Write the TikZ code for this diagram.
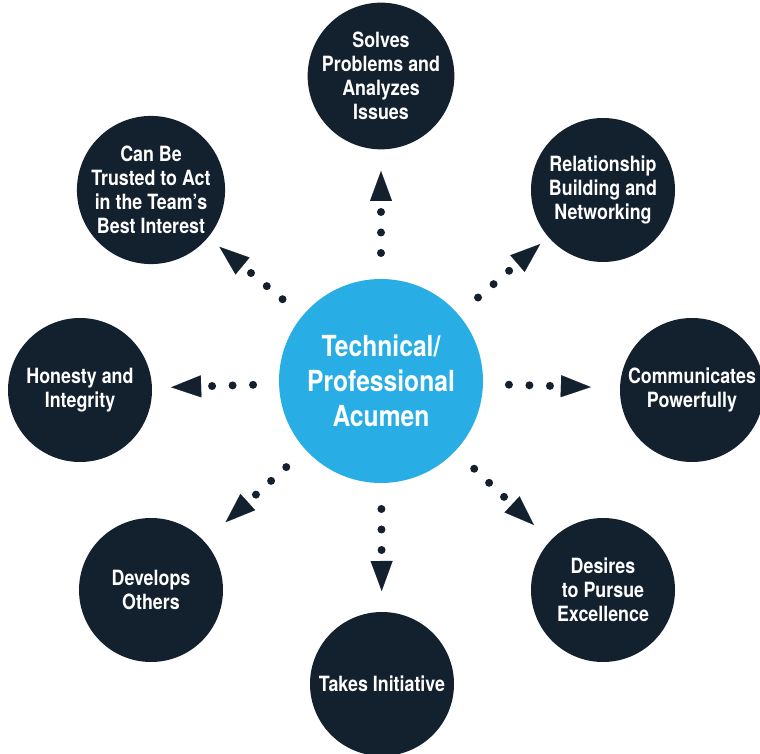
\documentclass[tikz,border=0pt]{standalone}
\usepackage{fontspec}
\setmainfont{TeX Gyre Heros}[FakeStretch=0.85]
\usetikzlibrary{arrows.meta,calc}
\definecolor{navy}{HTML}{13202E}
\definecolor{skyblue}{HTML}{28AEE4}

\begin{document}
\begin{tikzpicture}[x=1pt, y=1pt,
    trait/.style={circle, fill=navy, text=white, minimum size=144pt, inner sep=0pt, align=center,
        font=\bfseries\fontsize{21}{24}\selectfont},
    core/.style={circle, fill=skyblue, text=white, minimum size=204pt, inner sep=0pt, align=center,
        font=\bfseries\fontsize{29}{35}\selectfont},
    link/.style={navy, line width=8pt, line cap=round, dash pattern=on 0pt off 20.5pt,
        -{Triangle[length=30pt, width=22pt, line width=0.1pt]}}
]
\useasboundingbox (0,0) rectangle (760,753);

\node[core] (acumen) at (381,372) {Technical/\\Professional\\Acumen};

\node[trait] (solves) at (381,677) {Solves\\Problems and\\Analyzes\\Issues};
\node[trait] (network) at (603,563) {Relationship\\Building and\\Networking};
\node[trait] (communicates) at (692,363) {Communicates\\Powerfully};
\node[trait] (excellence) at (603,163) {Desires\\to Pursue\\Excellence};
\node[trait] (initiative) at (382,69) {Takes Initiative};
\node[trait] (develops) at (151,163) {Develops\\Others};
\node[trait] (honesty) at (80,363) {Honesty and\\Integrity};
\node[trait] (trusted) at (151,563) {Can Be\\Trusted to Act\\in the Team’s\\Best Interest};

\foreach \t in {solves, network, communicates, excellence, initiative, develops, honesty, trusted}
    \draw[link] ($(acumen)!128pt!(\t)$) -- ($(acumen)!210pt!(\t)$);
\end{tikzpicture}
\end{document}
